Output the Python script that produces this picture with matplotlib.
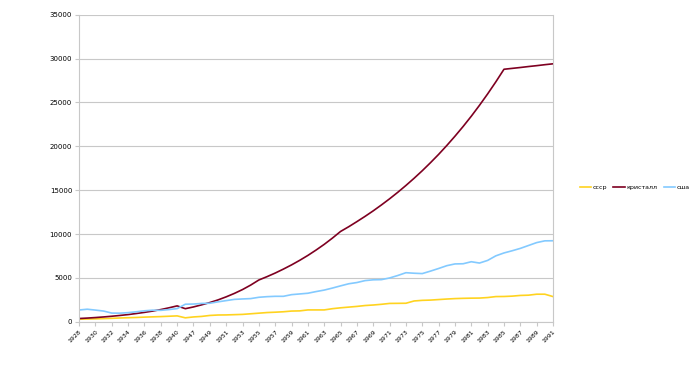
import matplotlib
matplotlib.use("Agg")
from matplotlib import pyplot as plt

# годы (с разрывом 1941-1945)
years = list(range(1928, 1941)) + list(range(1946, 1992))

sssr = [300, 320, 340, 370, 400, 440, 470, 500, 540, 570, 600, 640, 680,
        460, 560, 620, 730, 780, 790, 820, 850, 920, 990, 1060, 1100, 1150,
        1230, 1250, 1360, 1360, 1360, 1500, 1600, 1680, 1760, 1860, 1920,
        2000, 2100, 2110, 2120, 2380, 2450, 2480, 2540, 2600, 2650, 2680,
        2700, 2710, 2770, 2880, 2890, 2930, 3010, 3040, 3150, 3150, 2880]

kristall = [380, 430, 490, 560, 640, 730, 830, 950, 1080, 1230, 1400, 1600,
            1820, 1500, 1700, 1940, 2200, 2500, 2850, 3240, 3680, 4190, 4770,
            5150, 5560, 6010, 6490, 7010, 7570, 8180, 8830, 9540, 10300,
            10840, 11420, 12020, 12650, 13320, 14020, 14760, 15540, 16360,
            17220, 18130, 19080, 20090, 21150, 22260, 23430, 24670, 25970,
            27340, 28780, 28880, 28980, 29090, 29190, 29300, 29400]

usa = [1350, 1440, 1340, 1230, 1000, 990, 1050, 1150, 1260, 1330, 1310, 1400,
       1510, 2010, 2030, 2100, 2120, 2280, 2420, 2560, 2610, 2650, 2800, 2870,
       2910, 2910, 3100, 3180, 3260, 3450, 3620, 3850, 4100, 4340, 4480, 4700,
       4790, 4810, 5000, 5280, 5600, 5540, 5500, 5780, 6080, 6400, 6600, 6620,
       6850, 6700, 7000, 7520, 7850, 8100, 8370, 8700, 9030, 9230, 9240]

series = [("ссср", sssr, "#ffd320"),
          ("кристалл", kristall, "#7e0021"),
          ("сша", usa, "#83caff")]

fig = plt.figure(figsize=(7, 3.76), dpi=100)
ax = fig.add_axes([0.113, 0.144, 0.677, 0.817])

x = list(range(len(years)))
for name, values, color in series:
    ax.plot(x, values, color=color, linewidth=1.2, label=name)

ax.set_xlim(0, len(years) - 1)
ax.set_ylim(0, 35000)
ax.set_yticks(range(0, 35001, 5000))
ax.set_xticks(x[::2])
ax.set_xticklabels([str(y) for y in years[::2]], rotation=45,
                   ha="right", rotation_mode="anchor", fontsize=4.5)
ax.tick_params("y", labelsize=5, length=3, color="#c8c8c8", pad=2)
ax.tick_params("x", length=3, color="#c8c8c8", pad=2)
ax.grid(axis="y", color="#c8c8c8", linewidth=0.8)
ax.set_axisbelow(True)
for spine in ax.spines.values():
    spine.set_color("#c8c8c8")
    spine.set_linewidth(0.8)
ax.spines["top"].set_visible(False)

fig.legend(loc="center left", bbox_to_anchor=(0.828, 0.502), ncol=3,
           frameon=False, fontsize=4.5, handlelength=1.8, columnspacing=1.0,
           handletextpad=0.3, borderpad=0, borderaxespad=0)

fig.savefig("out.png", dpi=100)
